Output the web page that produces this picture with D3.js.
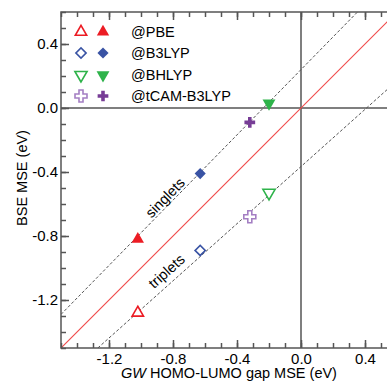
<!DOCTYPE html>
<html>
<head>
<meta charset="utf-8">
<script src="https://cdn.jsdelivr.net/npm/d3@7"></script>
<style>
  body { margin: 0; background: #fff; }
  svg { display: block; font-family: "Liberation Sans", Arial, Helvetica, sans-serif; }
</style>
</head>
<body>
<script>
// data
var functionals = ["@PBE", "@B3LYP", "@BHLYP", "@tCAM-B3LYP"];
var gwGapMSE = [-1.02, -0.63, -0.20, -0.32];
var singletMSE = [-0.82, -0.41, 0.03, -0.09];
var tripletMSE = [-1.28, -0.89, -0.53, -0.68];
var colorsOpen = ["#ec1c24", "#3953a4", "#2eb34a", "#a47fc3"];
var colorsFilled = ["#ec1c24", "#3953a4", "#2eb34a", "#773d96"];
var symbolNames = ["triangle", "diamond", "triangleDown", "cross"];

// fitted lines (endpoints in data units)
var singletLine = [[-1.5, -1.29], [0.353, 0.6]];
var tripletLine = [[-1.27, -1.5], [0.6, 0.17]];
var identityLine = [[-1.5, -1.5], [0.6, 0.6]];

var majorTicks = [-1.2, -0.8, -0.4, 0.0, 0.4];
var minorTicks = d3.range(-15, 7).map(function (d) { return d / 10; });

//globals (window.top is reserved, so prefixed names)
var svgW = 387, svgH = 381;
var pLeft = 61, pTop = 12, pBottom = 348, pRight = 397;

const svg = d3.select("body").append("svg")
    .attr("width", svgW)
    .attr("height", svgH);

var x = d3.scaleLinear().domain([-1.5, 0.6]).range([pLeft, pRight]);
var y = d3.scaleLinear().domain([-1.5, 0.6]).range([pBottom, pTop]);

svg.append("clipPath").attr("id", "plotclip")
    .append("rect")
    .attr("x", pLeft).attr("y", pTop)
    .attr("width", pRight - pLeft).attr("height", pBottom - pTop);

//zero lines
svg.append("line")
    .attr("x1", x(0)).attr("x2", x(0))
    .attr("y1", pTop).attr("y2", pBottom)
    .attr("stroke", "#555").attr("stroke-width", 1.5);
svg.append("line")
    .attr("x1", pLeft).attr("x2", pRight)
    .attr("y1", y(0)).attr("y2", y(0))
    .attr("stroke", "#555").attr("stroke-width", 1.5);

//reference / fit lines
var lineGen = d3.line().x(function (d) { return x(d[0]); }).y(function (d) { return y(d[1]); });
var lines = svg.append("g").attr("clip-path", "url(#plotclip)");
lines.append("path").attr("d", lineGen(identityLine))
    .attr("fill", "none").attr("stroke", "#f04a4a").attr("stroke-width", 1.2);
[singletLine, tripletLine].forEach(function (l) {
    lines.append("path").attr("d", lineGen(l))
        .attr("fill", "none").attr("stroke", "#555")
        .attr("stroke-width", 1).attr("stroke-dasharray", "3,2");
});

//axes (ticks point inward)
function styleAxis(g) {
    g.select(".domain").remove();
    g.selectAll(".tick line").attr("stroke", "#555").attr("stroke-width", 1.5);
    g.selectAll(".tick text").attr("fill", "#000").style("font-size", "15px");
}
function fmt(d) { return Math.abs(d) < 1e-9 ? "0.0" : d.toFixed(1); }

svg.append("g").attr("transform", "translate(0," + pBottom + ")")
    .call(d3.axisBottom(x).tickValues(minorTicks).tickSize(-5).tickFormat(""))
    .call(styleAxis);
svg.append("g").attr("transform", "translate(0," + pBottom + ")")
    .call(d3.axisBottom(x).tickValues(majorTicks).tickSize(-8).tickPadding(5).tickFormat(fmt))
    .call(styleAxis);
svg.append("g").attr("transform", "translate(0," + pTop + ")")
    .call(d3.axisTop(x).tickValues(minorTicks).tickSize(-5).tickFormat(""))
    .call(styleAxis);
svg.append("g").attr("transform", "translate(0," + pTop + ")")
    .call(d3.axisTop(x).tickValues(majorTicks).tickSize(-8).tickFormat(""))
    .call(styleAxis);
svg.append("g").attr("transform", "translate(" + pLeft + ",0)")
    .call(d3.axisLeft(y).tickValues(minorTicks).tickSize(-5).tickFormat(""))
    .call(styleAxis);
svg.append("g").attr("transform", "translate(" + pLeft + ",0)")
    .call(d3.axisLeft(y).tickValues(majorTicks).tickSize(-8).tickPadding(3).tickFormat(fmt))
    .call(styleAxis);

//frame
svg.append("path")
    .attr("d", "M" + pRight + "," + pTop + "H" + pLeft + "V" + pBottom + "H" + pRight)
    .attr("fill", "none").attr("stroke", "#555").attr("stroke-width", 1.5);

//axis titles
var xt = svg.append("text")
    .attr("x", 229).attr("y", 378)
    .attr("text-anchor", "middle")
    .style("font-size", "14.5px");
xt.append("tspan").style("font-style", "italic").text("GW");
xt.append("tspan").text(" HOMO-LUMO gap MSE (eV)");

svg.append("text")
    .attr("transform", "translate(27,178) rotate(-90)")
    .attr("text-anchor", "middle")
    .style("font-size", "14.5px")
    .text("BSE MSE (eV)");

//line labels
function lineAngle(l) {
    return -Math.atan2(y(l[0][1]) - y(l[1][1]), x(l[1][0]) - x(l[0][0])) * 180 / Math.PI;
}
svg.append("text")
    .attr("transform", "translate(" + x(-0.85) + "," + y(-0.56) + ") rotate(" + lineAngle(singletLine) + ")")
    .attr("text-anchor", "middle").attr("dy", "0.35em")
    .style("font-size", "14.5px")
    .text("singlets");
svg.append("text")
    .attr("transform", "translate(" + x(-0.84) + "," + y(-1.02) + ") rotate(" + lineAngle(tripletLine) + ")")
    .attr("text-anchor", "middle").attr("dy", "0.35em")
    .style("font-size", "14.5px")
    .text("triplets");

//marker shapes
function symbolPath(name, size) {
    if (name === "triangle") return d3.symbol(d3.symbolTriangle, size)();
    if (name === "triangleDown") return d3.symbol(d3.symbolTriangle, size)();
    if (name === "diamond") return d3.symbol(d3.symbolSquare, size)();
    return d3.symbol(d3.symbolCross, size)();
}
function symbolRot(name) {
    if (name === "triangleDown") return 180;
    if (name === "diamond") return 45;
    return 0;
}
var sizesOpen = { triangle: 56, triangleDown: 64, diamond: 52, cross: 80 };
var sizesFilled = { triangle: 66, triangleDown: 72, diamond: 62, cross: 64 };

function drawMarker(g, cx, cy, i, open) {
    var name = symbolNames[i];
    g.append("path")
        .attr("d", symbolPath(name, open ? sizesOpen[name] : sizesFilled[name]))
        .attr("transform", "translate(" + cx + "," + cy + ") rotate(" + symbolRot(name) + ")")
        .attr("fill", open ? "#fff" : colorsFilled[i])
        .attr("stroke", open ? colorsOpen[i] : "none")
        .attr("stroke-width", open ? 1.6 : 0);
}

var markers = svg.append("g");
functionals.forEach(function (f, i) {
    drawMarker(markers, x(gwGapMSE[i]), y(tripletMSE[i]), i, true);
    drawMarker(markers, x(gwGapMSE[i]), y(singletMSE[i]), i, false);
});

//legend
var legend = svg.append("g");
var legendRows = [32, 53, 75, 96];
functionals.forEach(function (f, i) {
    drawMarker(legend, 81, legendRows[i], i, true);
    drawMarker(legend, 103, legendRows[i], i, false);
    legend.append("text")
        .attr("x", 131).attr("y", legendRows[i] + 5)
        .style("font-size", "14.5px")
        .text(f);
});
</script>
</body>
</html>
